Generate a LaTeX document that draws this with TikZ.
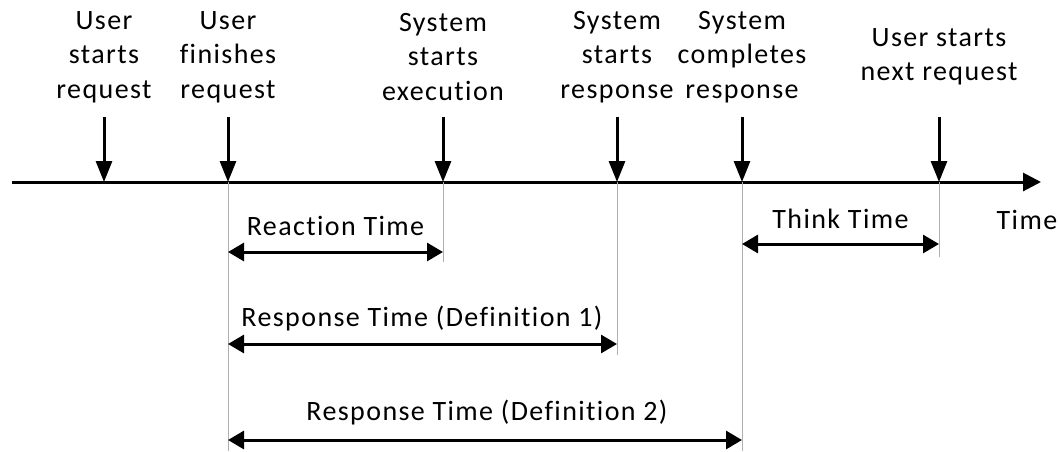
\documentclass[tikz,border=0pt]{standalone}
\usepackage{fontspec}
\setmainfont[LetterSpace=5,Ligatures={NoCommon,NoRequired,NoContextual}]{Carlito}
\usetikzlibrary{arrows.meta}
\begin{document}
\begin{tikzpicture}[x=1pt,y=-1pt,
  lbl/.style={align=center,inner sep=0pt,font=\fontsize{28}{34.5}\selectfont},
  axisline/.style={line width=3pt,-{Triangle[length=18pt,width=18pt]}},
  eventarrow/.style={line width=3pt,-{Triangle[length=21pt,width=16pt]}},
  guide/.style={line width=1pt,draw={rgb,255:red,175;green,175;blue,175}},
  span/.style={line width=3pt,{Triangle[length=16pt,width=18pt]}-{Triangle[length=16pt,width=18pt]}}]
\useasboundingbox (0,0) rectangle (1060,451);
% axis
\coordinate (a0) at (12,182);
\coordinate (a1) at (1041,182);
\draw[axisline] (a0) -- (a1);
\node[lbl] (timelbl) at (1027,220) {Time};
% events on axis
\coordinate (e1) at (104,182);
\coordinate (e2) at (228,182);
\coordinate (e3) at (443,182);
\coordinate (e4) at (617,182);
\coordinate (e5) at (742,182);
\coordinate (e6) at (939,182);
% arrow starts
\foreach \i/\x in {1/104,2/228,3/443,4/617,5/742,6/939}{\coordinate (t\i) at (\x,117);}
% labels
\node[lbl] (l1) at (104,57) {User\\starts\\request};
\node[lbl] (l2) at (228,57) {User\\finishes\\request};
\node[lbl] (l3) at (443,57) {System\\starts\\execution};
\node[lbl] (l4) at (617,57) {System\\starts\\response};
\node[lbl] (l5) at (742,57) {System\\completes\\response};
\node[lbl] (l6) at (939,57) {User starts\\next request};
% event arrows
\foreach \i in {1,...,6}{\draw[eventarrow] (t\i) -- (e\i);}
% guide lines
\coordinate (g2) at (228,451);
\coordinate (g3) at (443,262);
\coordinate (g4) at (617,355);
\coordinate (g5) at (742,451);
\coordinate (g6) at (939,257);
\draw[guide] (e2) -- (g2);
\draw[guide] (e3) -- (g3);
\draw[guide] (e4) -- (g4);
\draw[guide] (e5) -- (g5);
\draw[guide] (e6) -- (g6);
% spans
\coordinate (r0) at (228,252); \coordinate (r1) at (443,252);
\draw[span] (r0) -- (r1);
\node[lbl] (rlbl) at (335.5,226) {Reaction Time};
\coordinate (k0) at (742,244); \coordinate (k1) at (939,244);
\draw[span] (k0) -- (k1);
\node[lbl] (klbl) at (840.5,219) {Think Time};
\coordinate (d0) at (228,344); \coordinate (d1) at (617,344);
\draw[span] (d0) -- (d1);
\node[lbl] (dlbl) at (422,319) {Response Time (Definition 1)};
\coordinate (f0) at (228,440); \coordinate (f1) at (742,440);
\draw[span] (f0) -- (f1);
\node[lbl] (flbl) at (487,413) {Response Time (Definition 2)};
\end{tikzpicture}
\end{document}
